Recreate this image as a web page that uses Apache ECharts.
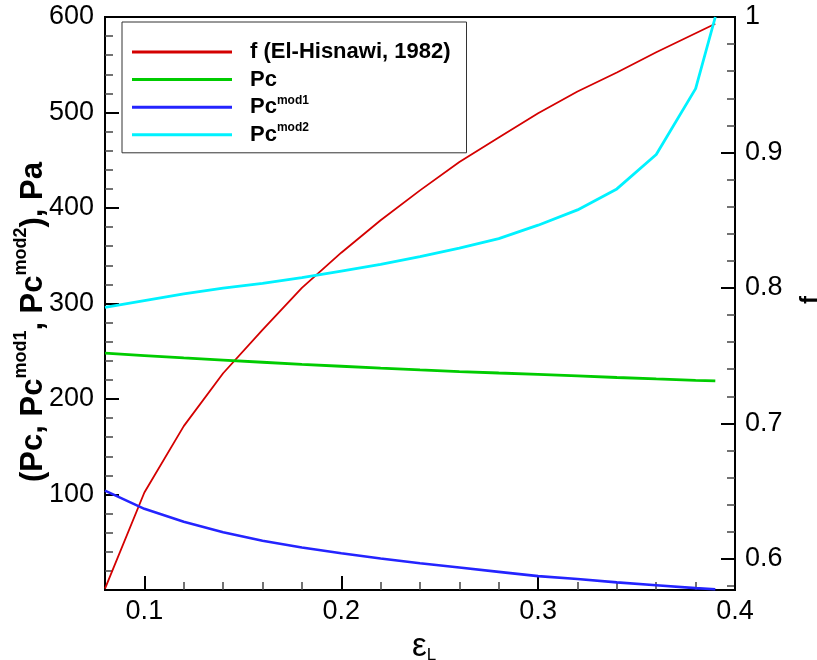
<!DOCTYPE html>
<html><head><meta charset="utf-8">
<script src="https://cdn.jsdelivr.net/npm/echarts@6/dist/echarts.min.js"></script>
<style>html,body{margin:0;padding:0;background:#fff}#c{width:817px;height:660px}</style>
</head><body><div id="c"></div>
<script>
// strain values (x)
const eps = [0.08, 0.10, 0.12, 0.14, 0.16, 0.18, 0.20, 0.22, 0.24, 0.26, 0.28, 0.30, 0.32, 0.34, 0.36, 0.38, 0.39];
// f (El-Hisnawi, 1982) on right axis
const fEl = [0.578, 0.649, 0.698, 0.737, 0.769, 0.800, 0.826, 0.850, 0.872, 0.893, 0.911, 0.929, 0.945, 0.959, 0.974, 0.988, 0.995];
// Pc, Pa
const pc = [248, 245.5, 243, 240.7, 238.5, 236.3, 234.3, 232.3, 230.4, 228.7, 227.2, 225.8, 224.3, 222.5, 221, 219.6, 219];
// Pc mod1, Pa
const pcMod1 = [104, 85, 71.5, 60.5, 51.5, 44.5, 38.4, 33, 28, 23.5, 19, 14.5, 11.5, 8, 5, 2, 0.8];
// Pc mod2, Pa
const pcMod2 = [296, 303, 310, 316, 321, 327, 334, 341, 349, 358, 368, 382, 398, 420, 456, 525, 600];

const xMajorTicks = [0.1, 0.2, 0.3, 0.4];
const xMinorTicks = [0.12, 0.14, 0.16, 0.18, 0.22, 0.24, 0.26, 0.28, 0.32, 0.34, 0.36, 0.38];
const leftTicks = [100, 200, 300, 400, 500, 600];
const rightTicks = [0.6, 0.7, 0.8, 0.9, 1];
const rightMinorTicks = [0.58, 0.62, 0.64, 0.66, 0.68, 0.72, 0.74, 0.76, 0.78, 0.82, 0.84, 0.86, 0.88, 0.92, 0.94, 0.96, 0.98];

const seriesNames = ['f (El-Hisnawi, 1982)', 'Pc', 'Pc mod1', 'Pc mod2'];
const legendLabels = {
  'f (El-Hisnawi, 1982)': '{sp| }{b|f (El-Hisnawi, 1982)}',
  'Pc': '{sp| }{b|Pc}',
  'Pc mod1': '{sp| }{b|Pc}{s|mod1}',
  'Pc mod2': '{sp| }{b|Pc}{s|mod2}'
};
const colors = ['#d40000', '#00cc00', '#2424ff', '#00f2ff'];

const FONT = 'Liberation Sans, Arial, sans-serif';
const pairs = arr => eps.map((x, i) => [x, arr[i]]);

const chart = echarts.init(document.getElementById('c'), null, {renderer: 'canvas'});
const lineAxis = {show: true, onZero: false, lineStyle: {color: '#000', width: 2}};
const majorTick = {show: true, inside: true, length: 14, lineStyle: {color: '#000', width: 2}};
const minorTickStyle = {show: true, inside: true, length: 8, lineStyle: {color: '#444', width: 1.5}};
const labelStyle = {color: '#000', fontSize: 27, fontFamily: FONT};

chart.setOption({
  backgroundColor: '#fff',
  animation: false,
  grid: {left: 105, right: 82, top: 17, bottom: 70, show: true, borderColor: '#000', borderWidth: 2, containLabel: false, outerBoundsMode: 'none'},
  legend: {
    orient: 'vertical', left: 122, top: 22,
    padding: [17, 16, 5, 10], itemGap: 1.6,
    itemWidth: 100, itemHeight: 3, icon: 'rect',
    borderColor: '#333', borderWidth: 1, backgroundColor: '#fff',
    selectedMode: false,
    data: seriesNames,
    formatter: name => legendLabels[name],
    textStyle: {
      fontSize: 22, lineHeight: 26, fontWeight: 'bold', fontFamily: FONT, color: '#000',
      rich: {
        sp: {width: 13, fontSize: 10, lineHeight: 26},
        b: {fontSize: 22, fontWeight: 'bold', fontFamily: FONT, lineHeight: 26, color: '#000'},
        s: {fontSize: 12, fontWeight: 'bold', fontFamily: FONT, lineHeight: 12, verticalAlign: 'top', color: '#000'}
      }
    }
  },
  xAxis: [
    {
      type: 'value', min: 0.08, max: 0.4, position: 'bottom',
      axisLine: lineAxis,
      axisTick: Object.assign({}, majorTick, {customValues: xMajorTicks}),
      axisLabel: Object.assign({}, labelStyle, {customValues: xMajorTicks, margin: 8}),
      splitLine: {show: false},
      name: 'ε{sub|L}', nameLocation: 'middle', nameGap: 35,
      nameTextStyle: {
        fontSize: 33, fontFamily: FONT, color: '#000', lineHeight: 34, padding: [0, 0, 0, 8],
        rich: {sub: {fontSize: 17, fontFamily: FONT, color: '#000', lineHeight: 14, verticalAlign: 'bottom'}}
      }
    },
    {
      type: 'value', min: 0.08, max: 0.4, position: 'bottom',
      axisLine: {show: false},
      axisTick: Object.assign({}, minorTickStyle, {customValues: xMinorTicks}),
      axisLabel: {show: false}, splitLine: {show: false}
    }
  ],
  yAxis: [
    {
      type: 'value', min: 0, max: 600, interval: 100, position: 'left',
      axisLine: lineAxis,
      axisTick: majorTick,
      minorTick: {show: true, splitNumber: 5, length: 8, lineStyle: {color: '#444', width: 1.5}},
      axisLabel: Object.assign({}, labelStyle, {customValues: leftTicks, margin: 11}),
      splitLine: {show: false}, minorSplitLine: {show: false}
    },
    {
      type: 'value', min: 0.577, max: 1, position: 'right',
      axisLine: lineAxis,
      axisTick: Object.assign({}, majorTick, {customValues: rightTicks}),
      axisLabel: Object.assign({}, labelStyle, {customValues: rightTicks, margin: 10}),
      splitLine: {show: false}
    },
    {
      type: 'value', min: 0.577, max: 1, position: 'right',
      axisLine: {show: false},
      axisTick: Object.assign({}, minorTickStyle, {customValues: rightMinorTicks}),
      axisLabel: {show: false}, splitLine: {show: false}
    }
  ],
  graphic: [
    {
      type: 'text', x: 33, y: 322, rotation: Math.PI / 2,
      style: {
        text: '{b|(Pc, Pc}{s|mod1}{b|, Pc}{s|mod2}{b|), Pa}',
        align: 'center', verticalAlign: 'middle',
        rich: {
          b: {fontSize: 31, fontWeight: 'bold', fontFamily: FONT, lineHeight: 42, fill: '#000'},
          s: {fontSize: 18, fontWeight: 'bold', fontFamily: FONT, lineHeight: 16, verticalAlign: 'top', fill: '#000'}
        }
      }
    },
    {
      type: 'text', x: 810, y: 300, rotation: Math.PI / 2,
      style: {text: 'f', align: 'center', verticalAlign: 'middle', fontSize: 24, fontWeight: 'bold', fontFamily: FONT, fill: '#000'}
    }
  ],
  series: [
    {name: seriesNames[0], type: 'line', xAxisIndex: 0, yAxisIndex: 1, data: pairs(fEl), showSymbol: false, color: colors[0], lineStyle: {width: 1.8, color: colors[0]}},
    {name: seriesNames[1], type: 'line', xAxisIndex: 0, yAxisIndex: 0, data: pairs(pc), showSymbol: false, color: colors[1], lineStyle: {width: 2.8, color: colors[1]}},
    {name: seriesNames[2], type: 'line', xAxisIndex: 0, yAxisIndex: 0, data: pairs(pcMod1), showSymbol: false, color: colors[2], lineStyle: {width: 2.6, color: colors[2]}},
    {name: seriesNames[3], type: 'line', xAxisIndex: 0, yAxisIndex: 0, data: pairs(pcMod2), showSymbol: false, color: colors[3], lineStyle: {width: 2.8, color: colors[3]}}
  ]
});
</script>
</body></html>
